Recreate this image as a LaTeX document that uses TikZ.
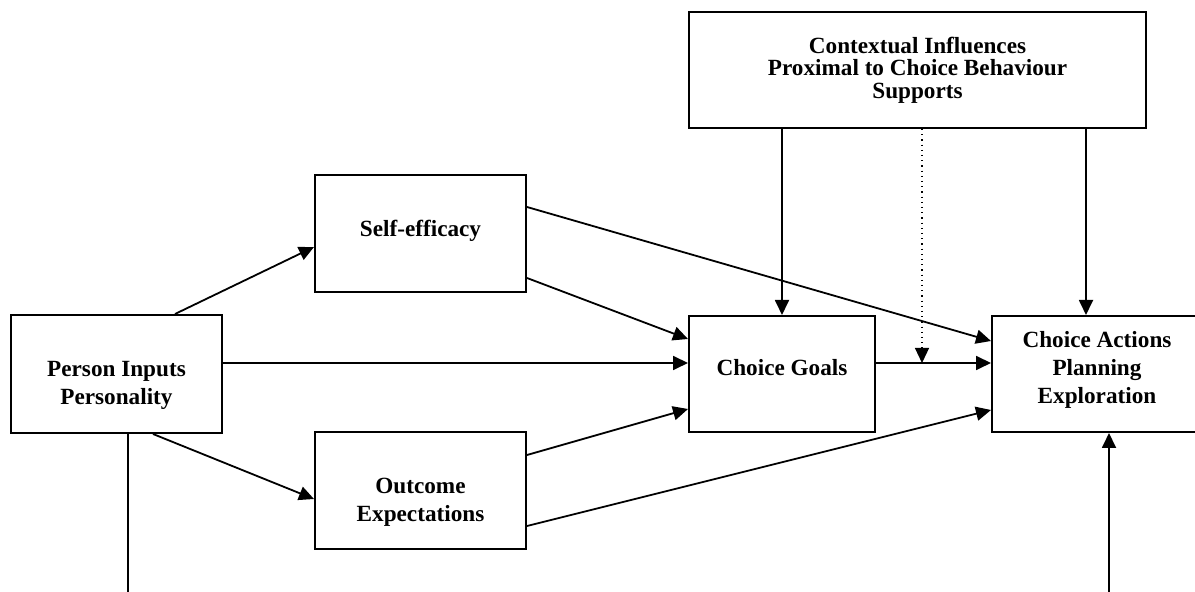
\documentclass[tikz,border=0pt]{standalone}
\usepackage{fontspec}
\setmainfont{Liberation Serif}
\usepackage{tikz}
\usetikzlibrary{arrows.meta,calc}

\begin{document}
\begin{tikzpicture}[x=0.5pt, y=-0.5pt]

%% ── helpers ───────────────────────────────────────────────
\tikzset{
  sbox/.style={rectangle,draw=black,line width=1pt,fill=white,
               minimum width=#1,inner sep=0pt},
  txt/.style={align=center,inner sep=0pt,
              font=\fontsize{11.6}{14}\selectfont\bfseries},
  arr/.style={-{Triangle[length=7.5pt,width=7pt]},line width=0.9pt},
  plain/.style={line width=0.9pt},
  dotarr/.style={-{Triangle[length=7.5pt,width=7pt]},line width=0.6pt,
                 dotted},
}
\useasboundingbox (0,0) rectangle (1195,592);

%% ── boxes ────────────────────────────────────────────────
\node[sbox=105.5pt,minimum height=59pt]   (person)  at (116.5,374) {};
\node[sbox=105.5pt,minimum height=58.5pt] (self)    at (420.5,234) {};
\node[sbox=105.5pt,minimum height=58.5pt] (outcome) at (420.5,490.5) {};
\node[sbox=93pt,minimum height=58pt]      (goals)   at (782,374) {};
\node[sbox=105pt,minimum height=58pt]     (actions) at (1097,374) {};
\node[sbox=228.5pt,minimum height=58pt]   (context) at (917.5,70) {};

%% ── box texts ────────────────────────────────────────────
\node[txt] (persontxt)  at ([yshift=-5.5pt]person)  {Person Inputs\\Personality};
\node[txt] (selftxt)    at ([yshift=1.5pt]self)     {Self-efficacy};
\node[txt] (outcometxt) at ([yshift=-5.75pt]outcome) {Outcome\\Expectations};
\node[txt] (goalstxt)   at ([yshift=3pt]goals)      {Choice Goals};
\node[txt] (actionstxt) at ([yshift=2pt]actions)    {Choice Actions\\Planning\\Exploration};
\node[txt,font=\fontsize{11.6}{11.25}\selectfont\bfseries] (contexttxt) at (context)
  {Contextual Influences\\Proximal to Choice Behaviour\\Supports};

%% ── helper points ────────────────────────────────────────
\coordinate (actin) at ([xshift=-5.5pt]actions.north);
\coordinate (meet)  at (922,363);
\coordinate (pbot)  at (128,600);
\coordinate (abot)  at (1109,600);

%% ── person inputs ────────────────────────────────────────
\draw[arr] ([xshift=29.25pt]person.north) -- ([yshift=-6.5pt]self.west);
\draw[arr] ([yshift=5.5pt]person.east)    -- ([yshift=5.5pt]goals.west);
\draw[arr] ([xshift=18.25pt]person.south) -- ([yshift=-4.25pt]outcome.west);
\draw[plain] (person.south -| pbot) -- (pbot);

%% ── self-efficacy / outcome ──────────────────────────────
\draw[arr] ([yshift=-22pt]self.east)       -- ([yshift=17.5pt]goals.west);
\draw[arr] ([yshift=13.5pt]self.east)      -- ([yshift=16.5pt]actions.west);
\draw[arr] ([yshift=17.75pt]outcome.east)  -- ([yshift=-17.5pt]goals.west);
\draw[arr] ([yshift=-17.75pt]outcome.east) -- ([yshift=-18pt]actions.west);

%% ── goals -> actions ─────────────────────────────────────
\draw[arr] ([yshift=5.5pt]goals.east) -- ([yshift=5.5pt]actions.west);

%% ── contextual influences ────────────────────────────────
\draw[arr] (context.south -| goals.north) -- (goals.north);
\draw[arr] (context.south -| actin) -- (actin);
\draw[dotarr] (context.south -| meet) -- (meet);

%% ── from below ───────────────────────────────────────────
\draw[arr] (abot) -- (abot |- actions.south);

\end{tikzpicture}
\end{document}
